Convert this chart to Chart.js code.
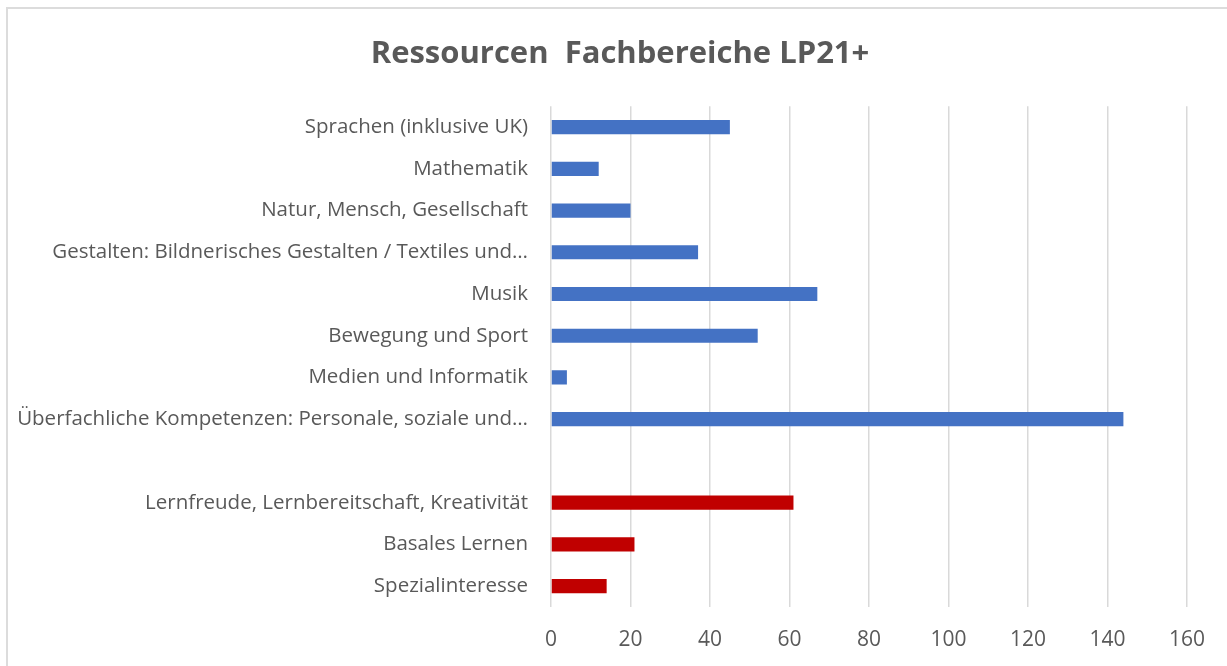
<!DOCTYPE html>
<html>
<head>
<meta charset="utf-8">
<script src="https://cdn.jsdelivr.net/npm/chart.js@4/dist/chart.umd.min.js"></script>
<style>
  html, body { margin: 0; padding: 0; background: #ffffff; overflow: hidden; }
  #frame { position: absolute; left: 6px; top: 7px; width: 1300px; height: 700px; border: 2px solid #dcdcdc; box-sizing: border-box; }
  #wrap { position: absolute; left: 0; top: 0; width: 1227px; height: 666px; }
</style>
</head>
<body>
<div id="frame"></div>
<div id="wrap"><canvas id="c"></canvas></div>
<script>
const chartTitle = 'Ressourcen  Fachbereiche LP21+';
const categories = [
  'Sprachen (inklusive UK)',
  'Mathematik',
  'Natur, Mensch, Gesellschaft',
  'Gestalten: Bildnerisches Gestalten / Textiles und…',
  'Musik',
  'Bewegung und Sport',
  'Medien und Informatik',
  'Überfachliche Kompetenzen: Personale, soziale und…',
  '',
  'Lernfreude, Lernbereitschaft, Kreativität',
  'Basales Lernen',
  'Spezialinteresse'
];
const fachValues =      [45, 12, 20, 37, 67, 52, 4, 144, null, null, null, null];
const ressourceValues = [null, null, null, null, null, null, null, null, null, 61, 21, 14];
const xTicks = [0, 20, 40, 60, 80, 100, 120, 140, 160];

const textColor = '#595959';
const fontFamily = '"Open Sans", "Liberation Sans", sans-serif';

new Chart(document.getElementById('c'), {
  type: 'bar',
  data: {
    labels: categories,
    datasets: [
      { label: 'Fachbereiche', data: fachValues, backgroundColor: '#4472C4', barPercentage: 0.34, categoryPercentage: 1 },
      { label: 'Ressourcen', data: ressourceValues, backgroundColor: '#C00000', barPercentage: 0.34, categoryPercentage: 1 }
    ]
  },
  options: {
    indexAxis: 'y',
    responsive: true,
    maintainAspectRatio: false,
    animation: false,
    layout: { padding: { left: 13, right: 0, top: 0, bottom: 17 } },
    plugins: {
      legend: { display: false },
      tooltip: { enabled: false },
      title: {
        display: true,
        text: chartTitle,
        color: textColor,
        font: { family: fontFamily, size: 31, weight: 'bold' },
        padding: { top: 36, bottom: 33 }
      }
    },
    scales: {
      x: {
        stacked: true,
        min: 0,
        max: 160,
        afterBuildTicks: (s) => { s.ticks = xTicks.map(v => ({ value: v })); },
        afterFit: (s) => { s.height = 42; s.paddingRight = 40; },
        grid: { color: '#d9d9d9', lineWidth: 1.5, drawTicks: false },
        border: { display: false },
        ticks: { color: textColor, font: { family: fontFamily, size: 21 }, padding: 20 }
      },
      y: {
        stacked: true,
        afterFit: (s) => { s.width = 538; },
        grid: { display: false },
        border: { display: false },
        ticks: { color: textColor, font: { family: fontFamily, size: 20.5 }, padding: 15, autoSkip: false }
      }
    }
  }
});
</script>
</body>
</html>
